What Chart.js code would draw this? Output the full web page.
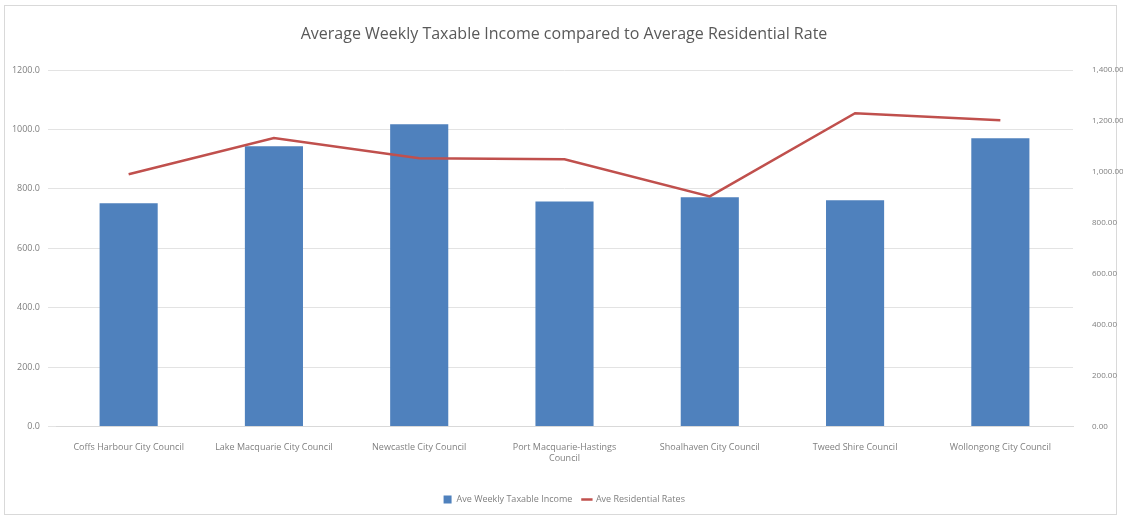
<!DOCTYPE html>
<html>
<head>
<meta charset="utf-8">
<script src="https://cdn.jsdelivr.net/npm/chart.js@4"></script>
<style>
  body { margin: 0; background: #fff; }
  .frame { position: absolute; left: 4px; top: 5px; width: 1113px; height: 510px; border: 1px solid #d9d9d9; box-sizing: border-box; }
  canvas { position: absolute; left: 5px; top: 6px; display: block; }
</style>
</head>
<body>
<div class="frame"></div>
<canvas id="c" width="1118" height="508"></canvas>
<script>
const councils = [
  'Coffs Harbour City Council',
  'Lake Macquarie City Council',
  'Newcastle City Council',
  ['Port Macquarie-Hastings', 'Council'],
  'Shoalhaven City Council',
  'Tweed Shire Council',
  'Wollongong City Council'
];
const weeklyIncome = [752, 944, 1018, 758, 772, 762, 971];
const residentialRates = [991, 1133, 1054, 1050, 904, 1231, 1203];

const font = "'Open Sans', sans-serif";
const grey = '#7f7f7f';

new Chart(document.getElementById('c'), {
  data: {
    labels: councils,
    datasets: [
      {
        type: 'line',
        label: 'Ave Residential Rates',
        data: residentialRates,
        yAxisID: 'y2',
        borderColor: '#c0504d',
        backgroundColor: '#c0504d',
        borderWidth: 2.5,
        pointRadius: 0,
        tension: 0,
        order: 0
      },
      {
        type: 'bar',
        label: 'Ave Weekly Taxable Income',
        data: weeklyIncome,
        yAxisID: 'y',
        backgroundColor: '#4f81bd',
        categoryPercentage: 1,
        barPercentage: 0.4,
        order: 1
      }
    ]
  },
  options: {
    responsive: false,
    animation: false,
    layout: { padding: { left: 0, right: 0, top: 0, bottom: 0 } },
    plugins: {
      title: {
        display: true,
        text: 'Average Weekly Taxable Income compared to Average Residential Rate',
        color: '#595959',
        font: { family: font, size: 16, weight: 'normal' },
        padding: { top: 19, bottom: 26 }
      },
      legend: {
        position: 'bottom',
        reverse: true,
        labels: {
          color: grey,
          font: { family: font, size: 9 },
          usePointStyle: true,
          boxWidth: 30,
          boxHeight: 8,
          generateLabels(chart) {
            const items = Chart.defaults.plugins.legend.labels.generateLabels(chart);
            items.forEach(it => {
              const ds = chart.data.datasets[it.datasetIndex];
              it.pointStyle = ds.type === 'line' ? 'line' : 'rect';
              it.lineWidth = ds.type === 'line' ? 2.5 : 0;
              it.strokeStyle = ds.borderColor || ds.backgroundColor;
            });
            return items;
          }
        }
      },
      tooltip: { enabled: false }
    },
    scales: {
      x: {
        grid: { display: false },
        border: { color: '#d9d9d9' },
        ticks: { color: grey, font: { family: font, size: 9 }, maxRotation: 0, autoSkip: false, padding: 8 },
        afterFit: s => { s.height += 13; }
      },
      y: {
        position: 'left',
        min: 0, max: 1200,
        ticks: { stepSize: 200, color: grey, font: { family: font, size: 9 }, padding: 8,
          callback: v => v.toFixed(1) },
        grid: { color: '#e3e3e3' },
        border: { display: false },
        afterFit: s => { s.width = 51; }
      },
      y2: {
        position: 'right',
        min: 0, max: 1400,
        ticks: { stepSize: 200, color: grey, font: { family: font, size: 8 }, padding: 11,
          callback: v => v.toLocaleString('en-US', { minimumFractionDigits: 2, maximumFractionDigits: 2 }) },
        grid: { display: false },
        border: { display: false },
        afterFit: s => { s.width = 50; }
      }
    }
  }
});
</script>
</body>
</html>
